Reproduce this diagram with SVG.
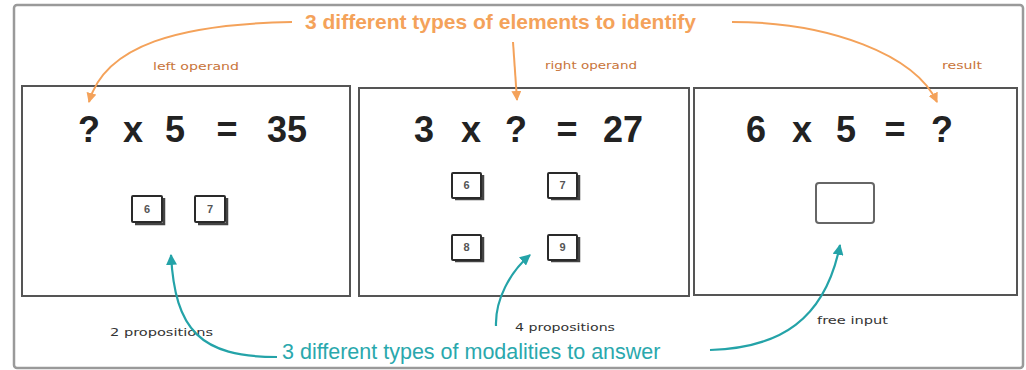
<svg xmlns="http://www.w3.org/2000/svg" width="1026" height="370" viewBox="0 0 1026 370">
<style>
.frame{fill:#fff;stroke:#9a9a9a;stroke-width:2.5}
.panel{fill:#fff;stroke:#555;stroke-width:2}
.eq{font-family:"Liberation Sans",Arial,sans-serif;font-weight:bold;font-size:36px;fill:#222;text-anchor:middle}
.key{fill:#fff;stroke:#2a2a2a;stroke-width:2}
.keysh{fill:none;stroke:#444;stroke-width:2.5}
.kd{font-family:"Liberation Sans",Arial,sans-serif;font-weight:bold;font-size:11px;fill:#555;text-anchor:middle}
.title1{font-family:"Liberation Sans",Arial,sans-serif;font-weight:bold;font-size:21px;fill:#f4a25a}
.title2{font-family:"Liberation Sans",Arial,sans-serif;font-size:21.5px;fill:#2aa8ad}
.lo{font-family:"DejaVu Sans",sans-serif;font-size:11px;fill:#c8743a}
.lb{font-family:"DejaVu Sans",sans-serif;font-size:11px;fill:#333}
.co{fill:none;stroke:#f4a25a;stroke-width:2}
.ct{fill:none;stroke:#24a3a8;stroke-width:2.2}
</style>
<defs>
<marker id="ao" viewBox="0 0 10 10" refX="9" refY="5" markerWidth="5" markerHeight="5" orient="auto" markerUnits="strokeWidth">
<path d="M0,0 L10,5 L0,10 z" fill="#f4a25a"/>
</marker>
<marker id="at" viewBox="0 0 10 10" refX="9" refY="5" markerWidth="5" markerHeight="5" orient="auto" markerUnits="strokeWidth">
<path d="M0,0 L10,5 L0,10 z" fill="#24a3a8"/>
</marker>
</defs>
<rect class="frame" x="14" y="5" width="1009" height="363" rx="3"/>

<g id="panel-left">
<rect class="panel" x="22" y="86" width="328" height="210"/>
<text class="eq" x="89" y="142">?</text>
<text class="eq" x="133" y="142">x</text>
<text class="eq" x="175" y="142">5</text>
<text class="eq" x="227" y="142">=</text>
<text class="eq" x="287" y="142">35</text>
<g id="p1-k6"><path class="keysh" d="M135,224 H164 V198"/><rect class="key" x="132" y="196" width="30" height="26" rx="1"/><text class="kd" x="147" y="213">6</text></g>
<g id="p1-k7"><path class="keysh" d="M198,224 H227 V198"/><rect class="key" x="195" y="196" width="30" height="26" rx="1"/><text class="kd" x="210" y="213">7</text></g>
</g>

<g id="panel-middle">
<rect class="panel" x="359" y="88" width="330" height="208"/>
<text class="eq" x="424" y="142">3</text>
<text class="eq" x="471" y="142">x</text>
<text class="eq" x="516" y="142">?</text>
<text class="eq" x="567" y="142">=</text>
<text class="eq" x="623" y="142">27</text>
<g id="p2-k6"><path class="keysh" d="M455,199 H483 V175"/><rect class="key" x="452" y="173" width="29" height="25" rx="1"/><text class="kd" x="466.5" y="189">6</text></g>
<g id="p2-k7"><path class="keysh" d="M551,199 H579 V175"/><rect class="key" x="548" y="173" width="29" height="25" rx="1"/><text class="kd" x="562.5" y="189">7</text></g>
<g id="p2-k8"><path class="keysh" d="M455,261 H483 V237"/><rect class="key" x="452" y="235" width="29" height="25" rx="1"/><text class="kd" x="466.5" y="251">8</text></g>
<g id="p2-k9"><path class="keysh" d="M551,261 H579 V237"/><rect class="key" x="548" y="235" width="29" height="25" rx="1"/><text class="kd" x="562.5" y="251">9</text></g>
</g>

<g id="panel-right">
<rect class="panel" x="694" y="88" width="323" height="207"/>
<text class="eq" x="756" y="142">6</text>
<text class="eq" x="802" y="142">x</text>
<text class="eq" x="846" y="142">5</text>
<text class="eq" x="895" y="142">=</text>
<text class="eq" x="942" y="142">?</text>
<rect id="free-box" x="816" y="183" width="58" height="40" rx="3" fill="#fff" stroke="#666" stroke-width="2"/>
</g>

<g id="title-elements">
<text class="title1" x="305" y="29">3 different types of elements to identify</text>
</g>
<g id="title-modalities">
<text class="title2" x="282" y="359">3 different types of modalities to answer</text>
</g>

<g id="labels">
<text class="lo" x="153" y="70" textLength="86" lengthAdjust="spacingAndGlyphs">left operand</text>
<text class="lo" x="545" y="69" textLength="92" lengthAdjust="spacingAndGlyphs">right operand</text>
<text class="lo" x="942" y="69" textLength="40" lengthAdjust="spacingAndGlyphs">result</text>
<text class="lb" x="110" y="336" textLength="103" lengthAdjust="spacingAndGlyphs">2 propositions</text>
<text class="lb" x="515" y="331" textLength="100" lengthAdjust="spacingAndGlyphs">4 propositions</text>
<text class="lb" x="817" y="324" textLength="71" lengthAdjust="spacingAndGlyphs">free input</text>
</g>

<g id="connectors">
<path class="co" d="M292,22 C180,24 105,45 89,102" marker-end="url(#ao)"/>
<path class="co" d="M513,42 L517,100" marker-end="url(#ao)"/>
<path class="co" d="M732,22 C830,22 915,55 937,102" marker-end="url(#ao)"/>
<path class="ct" d="M277,357 C200,357 175,330 171,255" marker-end="url(#at)"/>
<path class="ct" d="M496,326 C495,300 510,272 530,255" marker-end="url(#at)"/>
<path class="ct" d="M710,350 C780,348 825,320 840,245" marker-end="url(#at)"/>
</g>
</svg>
